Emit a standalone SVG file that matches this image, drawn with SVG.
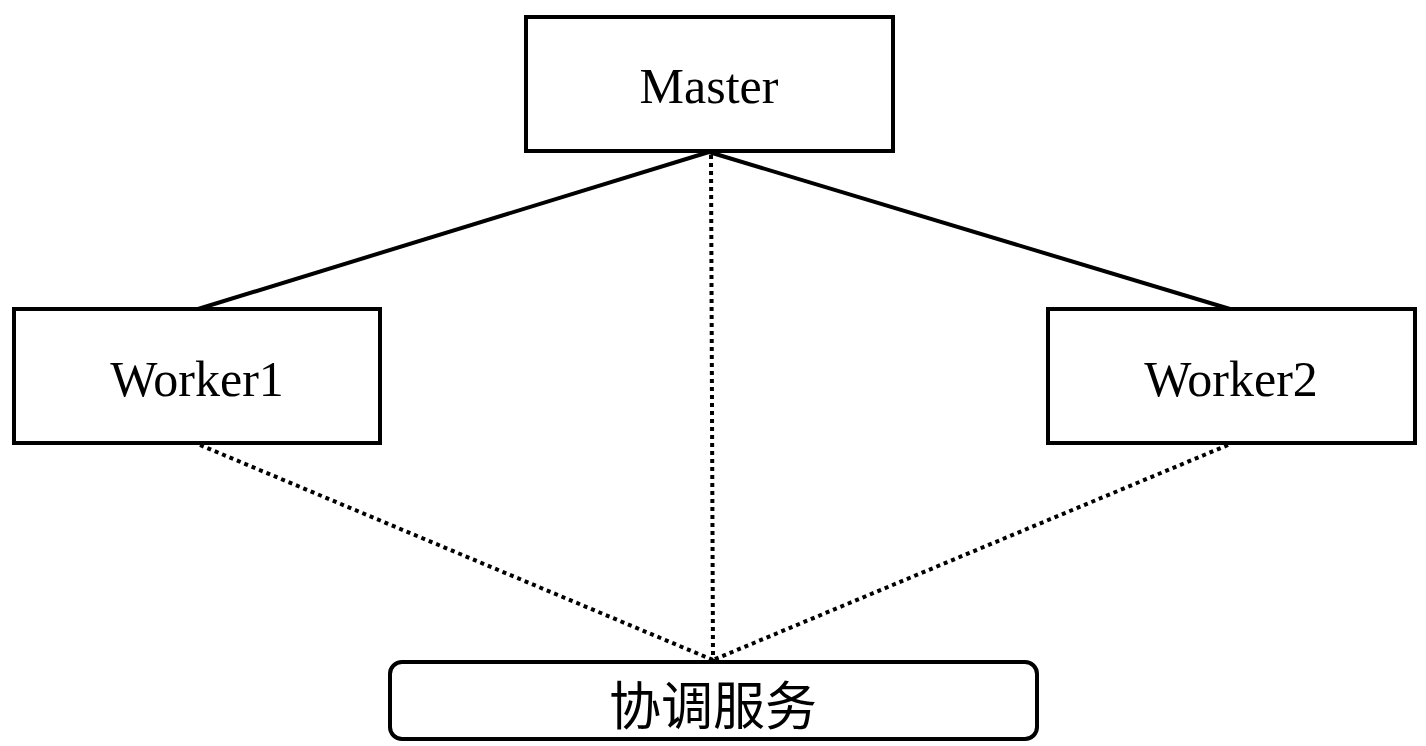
<svg xmlns="http://www.w3.org/2000/svg" width="1426" height="746" viewBox="0 0 1426 746">
<style>
.box{fill:#fff;stroke:#000;stroke-width:4}
.lbl{font-family:"Liberation Serif","Times New Roman",serif;font-size:50px;fill:#000;text-anchor:middle}
.cjk{font-family:"Noto Sans CJK SC","Noto Sans",sans-serif;font-size:52px;fill:#000;text-anchor:middle}
.solid{stroke:#000;stroke-width:4;fill:none}
.dot{stroke:#000;stroke-width:4;fill:none;stroke-dasharray:4 4}
</style>
<rect width="1426" height="746" fill="#fff"/>
<g id="connectors">
<line class="solid" x1="709" y1="152" x2="198" y2="309"/>
<line class="solid" x1="709" y1="152" x2="1230" y2="309"/>
<line class="dot" x1="711" y1="155" x2="713" y2="660"/>
<line class="dot" x1="200" y1="445" x2="713" y2="660"/>
<line class="dot" x1="1228" y1="445" x2="713" y2="660"/>
</g>
<g id="master">
<rect class="box" x="526" y="17" width="367" height="134"/>
<text class="lbl" x="709" y="103">Master</text>
</g>
<g id="worker1">
<rect class="box" x="14" y="309" width="366" height="134"/>
<text class="lbl" x="197" y="396">Worker1</text>
</g>
<g id="worker2">
<rect class="box" x="1048" y="309" width="367" height="134"/>
<text class="lbl" x="1231" y="396">Worker2</text>
</g>
<g id="coord">
<rect class="box" x="390" y="662" width="647" height="77" rx="12" ry="12"/>
<text class="cjk" x="713" y="725">协调服务</text>
</g>
</svg>
